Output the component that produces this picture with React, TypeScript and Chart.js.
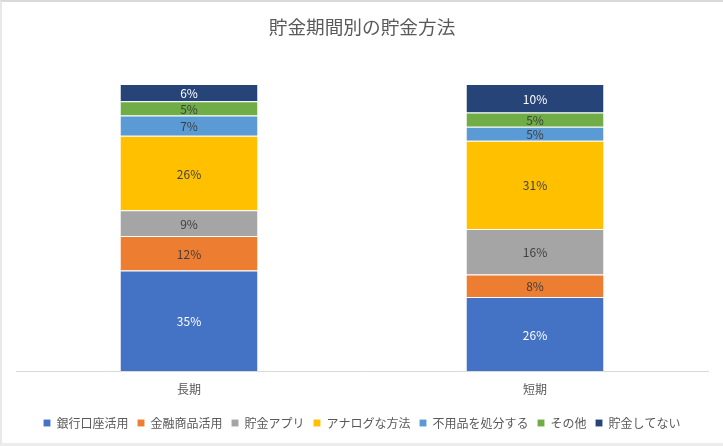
import React, { useEffect, useRef } from "react";
import { Chart, registerables } from "chart.js";

Chart.register(...registerables);

const titleText = "貯金期間別の貯金方法";
const categories = ["長期", "短期"];
const seriesNames = [
  "銀行口座活用",
  "金融商品活用",
  "貯金アプリ",
  "アナログな方法",
  "不用品を処分する",
  "その他",
  "貯金してない",
];
// percentages shown in the chart, per series: [長期, 短期]
const bankAccount = [35, 26];
const financialProducts = [12, 8];
const savingsApp = [9, 16];
const analogMethod = [26, 31];
const sellUnused = [7, 5];
const other = [5, 5];
const noSaving = [6, 10];
const seriesValues = [bankAccount, financialProducts, savingsApp, analogMethod, sellUnused, other, noSaving];

const colors = ["#4472C4", "#ED7D31", "#A5A5A5", "#FFC000", "#5B9BD5", "#70AD47", "#264478"];
const labelColors = ["#ffffff", "#404040", "#404040", "#404040", "#404040", "#404040", "#ffffff"];

const FONT = '"Noto Sans CJK JP", "Noto Sans", sans-serif';

const columnSums = categories.map((_, ci) => seriesValues.reduce((s, arr) => s + arr[ci], 0));

const barLabelPlugin = {
  id: "barLabels",
  afterDatasetsDraw(chart: any) {
    const ctx = chart.ctx;
    ctx.save();
    ctx.font = `12px ${FONT}`;
    ctx.textAlign = "center";
    ctx.textBaseline = "middle";
    chart.data.datasets.forEach((ds: any, di: number) => {
      const meta = chart.getDatasetMeta(di);
      meta.data.forEach((el: any, i: number) => {
        const { x, y, base } = el.getProps(["x", "y", "base"], true);
        ctx.fillStyle = labelColors[di];
        ctx.fillText(`${ds.rawValues[i]}%`, x, (y + base) / 2 + 1);
      });
    });
    ctx.restore();
  },
};

export default function App() {
  const ref = useRef<HTMLCanvasElement | null>(null);

  useEffect(() => {
    document.body.style.margin = "0";
    if (!ref.current) return;
    const chart = new Chart(ref.current, {
      type: "bar",
      data: {
        labels: categories,
        datasets: seriesNames.map((name, si) => ({
          label: name,
          data: seriesValues[si].map((v, ci) => (v / columnSums[ci]) * 100),
          rawValues: seriesValues[si],
          backgroundColor: colors[si],
          borderColor: "rgba(255,255,255,0.5)",
          borderWidth: { top: 1, left: 0, right: 0, bottom: 0 },
          borderSkipped: false,
          barPercentage: 0.396,
          categoryPercentage: 1,
        })) as any,
      },
      options: {
        animation: false,
        responsive: false,
        maintainAspectRatio: false,
        devicePixelRatio: 1,
        layout: { padding: { left: 16, right: 15, top: 0, bottom: 7 } },
        plugins: {
          title: {
            display: true,
            text: titleText,
            color: "#595959",
            font: { family: FONT, size: 18.67, weight: "normal" },
            padding: { top: 16, bottom: 45.6 },
          },
          legend: {
            position: "bottom",
            labels: {
              boxWidth: 7,
              boxHeight: 7,
              padding: 9,
              color: "#595959",
              font: { family: FONT, size: 12 },
            },
          },
          tooltip: { enabled: false },
        },
        scales: {
          x: {
            stacked: true,
            grid: { display: false, drawTicks: false },
            border: { display: true, color: "#d9d9d9", width: 1 },
            ticks: { color: "#595959", font: { family: FONT, size: 12 }, padding: 11 },
            afterFit: (scale: any) => {
              scale.height = 37;
            },
          },
          y: {
            stacked: true,
            display: false,
            min: 0,
            max: 100,
          },
        },
      } as any,
      plugins: [barLabelPlugin],
    });
    return () => chart.destroy();
  }, []);

  return (
    <div style={{ position: "fixed", left: 0, top: 0, width: 723, height: 446, background: "#fff" }}>
      <canvas ref={ref} width={723} height={446} style={{ position: "absolute", left: 0, top: 0, width: 723, height: 446 }} />
      <div
        style={{
          position: "absolute",
          left: 0,
          top: 0,
          width: 723,
          height: 446,
          boxSizing: "border-box",
          borderTop: "2px solid #d9d9d9",
          borderLeft: "2px solid #e8e8e8",
          borderBottom: "3px solid #ececec",
          pointerEvents: "none",
        }}
      />
    </div>
  );
}
